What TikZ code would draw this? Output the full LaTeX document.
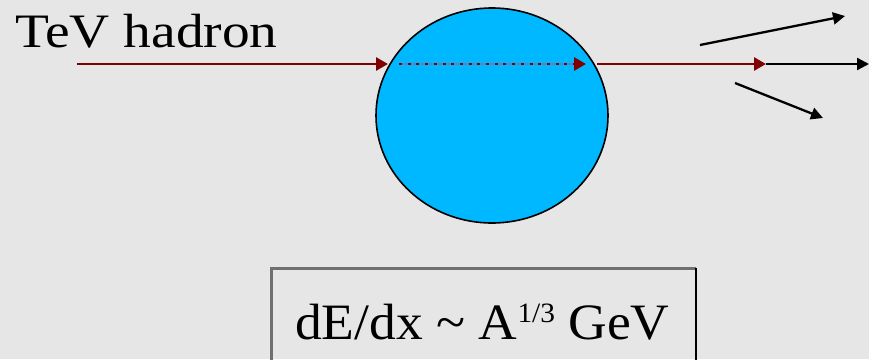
\documentclass[tikz,border=0pt]{standalone}
\usepackage{fontspec}
\setmainfont{Liberation Serif}
\usetikzlibrary{arrows.meta,shapes.geometric}
\definecolor{bg}{RGB}{230,230,230}
\definecolor{maroonline}{RGB}{128,0,0}
\definecolor{nucblue}{RGB}{0,184,255}
\definecolor{boxgray}{RGB}{112,112,112}
\definecolor{dotband}{RGB}{90,130,200}
\tikzset{
  redarrow/.style={draw=maroonline, line width=2.8pt, -{Triangle[length=12pt,width=13pt]}},
  blackarrow/.style={draw=black, line width=2.3pt, -{Triangle[length=12pt,width=12pt]}},
  dotarrow/.style={draw=maroonline, line width=2.8pt, dash pattern=on 3pt off 5.7pt, -{Triangle[length=12pt,width=13pt]}},
  nucleus/.style={ellipse, draw=black, line width=1.6pt, fill=nucblue, minimum width=232pt, minimum height=215pt, inner sep=0pt},
  label/.style={inner sep=0pt, anchor=base west, text=black}
}
\begin{document}
\begin{tikzpicture}[x=1pt,y=-1pt]
\useasboundingbox (0,0) rectangle (869,359);
\clip (0,0) rectangle (869,359);
\fill[bg] (0,0) rectangle (869,359);
% nucleus
\node[nucleus] (nuc) at (492,115.5) {};
% text
\node[label] (hadron) at (15,47) {\fontsize{48}{48}\selectfont\scalebox{1.155}[1]{TeV hadron}};
% incoming
\coordinate (inStart) at (77,64);
\coordinate (inEnd) at (388,64);
\draw[redarrow] (inStart) -- (inEnd);
% inside dotted
\coordinate (dStart) at (399,64);
\coordinate (dEnd) at (586,64);
\draw[draw=dotband, line width=2.6pt, shorten >=8pt] (dStart) -- (dEnd);
\draw[dotarrow] (dStart) -- (dEnd);
% outgoing
\coordinate (outStart) at (597,64);
\coordinate (outMid) at (766,64);
\coordinate (outEnd) at (869,64);
\draw[blackarrow] (outMid) -- (outEnd);
\draw[redarrow] (outStart) -- (outMid);
% secondaries
\coordinate (upStart) at (700,45);
\coordinate (upEnd) at (845,16);
\draw[blackarrow] (upStart) -- (upEnd);
\coordinate (loStart) at (735,83);
\coordinate (loEnd) at (823,118);
\draw[blackarrow] (loStart) -- (loEnd);
% box
\coordinate (bTL) at (271,268);
\coordinate (bTR) at (696,268);
\coordinate (bBL) at (271,380);
\coordinate (bBR) at (696,380);
\draw[boxgray, line width=3pt] (bBL) -- (bTL) -- (bTR);
\draw[black, line width=2.5pt] (bTR) -- (bBR);
\node[label] (formula) at (295,339) {\fontsize{51}{51}\selectfont\scalebox{1.05}[1]{dE/dx \textasciitilde{} A\raisebox{17pt}{\fontsize{28}{28}\selectfont 1/3} GeV}};
\end{tikzpicture}
\end{document}
